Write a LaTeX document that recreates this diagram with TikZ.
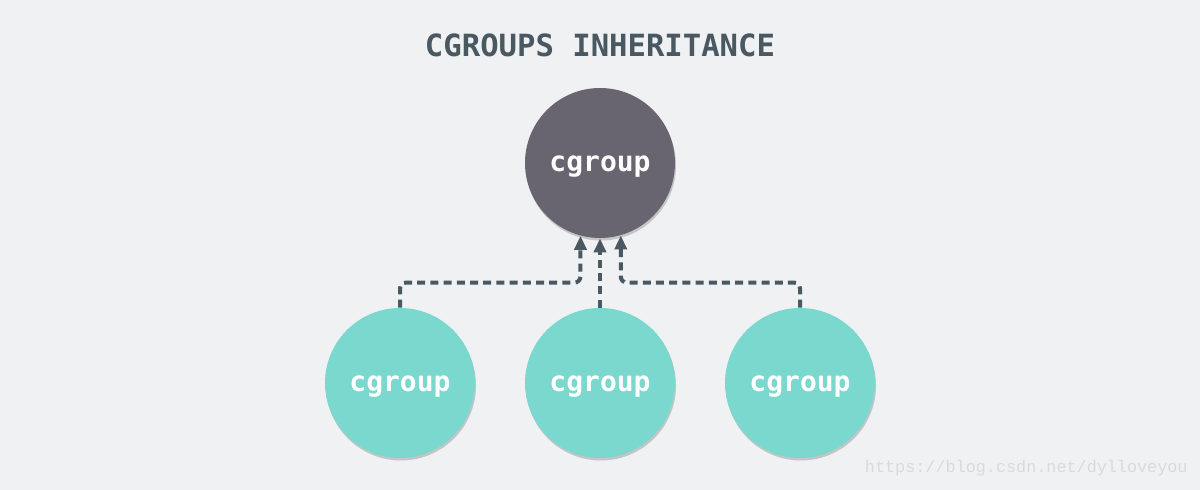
\documentclass[tikz,border=0pt]{standalone}
\usepackage{fontspec}
\usetikzlibrary{arrows.meta,calc}
\newfontfamily\monofam{DejaVu Sans Mono}
\newfontfamily\wmfam{Liberation Mono}
\newcommand{\cgtext}{\raisebox{-4.5pt}[0pt][0pt]{cgroup}}
\definecolor{bgc}{HTML}{F0F1F3}
\definecolor{topc}{HTML}{686570}
\definecolor{botc}{HTML}{7AD8CE}
\definecolor{arrc}{HTML}{4A5961}
\definecolor{titc}{HTML}{4A5862}
\definecolor{wmc}{HTML}{D9DADC}
\tikzset{
  x=0.5pt, y=-0.5pt,
  cg/.style={circle, minimum size=75pt, inner sep=0pt, text=white,
    font=\monofam\bfseries\fontsize{14}{16}\selectfont},
  shadowc/.style={fill=black!55, opacity=0.35},
  arr/.style={draw=arrc, line width=2pt, dash pattern=on 4pt off 2.6pt,
    rounded corners=3pt, -{Triangle[width=6pt,length=7pt]}}
}
\begin{document}
\begin{tikzpicture}
\fill[bgc] (0,0) rectangle (1200,490);
\useasboundingbox (0,0) rectangle (1200,490);
\node[font=\monofam\bfseries\fontsize{15.3}{18}\selectfont, text=titc] (title) at (600,45) {CGROUPS INHERITANCE};
% shadows
\foreach \p in {(600,163),(400,383),(600,383),(800,383)}{
  \fill[shadowc] \p ++(1,2.5) circle[radius=37.5pt];
}
\node[cg, fill=topc] (top) at (600,163) {\cgtext};
\node[cg, fill=botc] (c1) at (400,383) {\cgtext};
\node[cg, fill=botc] (c2) at (600,383) {\cgtext};
\node[cg, fill=botc] (c3) at (800,383) {\cgtext};
\draw[arr] (c1.north) -- ++(0,-25) -| (top.-105.5);
\draw[arr] (c2.north) -- (top.south);
\draw[arr] (c3.north) -- ++(0,-25) -| (top.-74.5);
\node[font=\wmfam\fontsize{8.4}{10}\selectfont, text=wmc, anchor=east, inner sep=0pt] (wm) at (1188,468) {https://blog.csdn.net/dylloveyou};
\end{tikzpicture}
\end{document}
